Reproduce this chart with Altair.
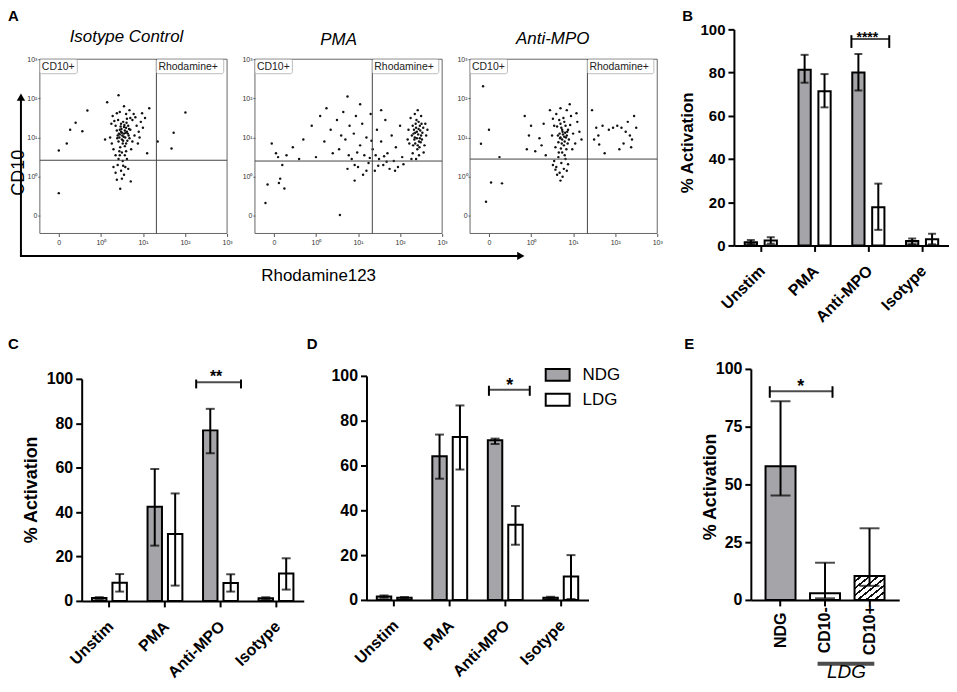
import altair as alt
import pandas as pd

FONT = "Liberation Sans"
GRAY = "#a5a5a9"
W, H = 945, 676

# ---------------- Panel A (flow cytometry) ----------------
# display units: 0 -> "0", 1 -> 10^0, 2 -> 10^1, 3 -> 10^2, 4 -> 10^3
a_titles = ["Isotype Control", "PMA", "Anti-MPO"]
a_tick_values = [0, 1, 2, 3, 4]
a_tick_labels = ["0", "10⁰", "10¹", "10²", "10³"]
a_gate_x = [2.32, 2.34, 2.34]
a_gate_y = [1.42, 1.40, 1.45]
a_gate_names = ["CD10+", "Rhodamine+"]

iso_pts = [
    (1.40, 2.05), (1.45, 2.20), (1.50, 1.95), (1.55, 2.10), (1.60, 2.25), (1.48, 2.35), (1.52, 1.85),
    (1.58, 2.00), (1.62, 2.15), (1.42, 1.90), (1.47, 2.28), (1.66, 2.05), (1.38, 2.18), (1.53, 2.40),
    (1.57, 1.78), (1.44, 2.00), (1.63, 1.92), (1.50, 2.12), (1.70, 2.20), (1.35, 2.30), (1.56, 2.32),
    (1.46, 1.75), (1.61, 2.38), (1.68, 1.98), (1.41, 2.45), (1.54, 2.02), (1.49, 2.22), (1.59, 2.12),
    (1.43, 2.10), (1.65, 2.30), (1.51, 2.05), (1.57, 2.18), (1.45, 2.08), (1.64, 2.10), (1.53, 1.92),
    (1.48, 2.15), (1.60, 1.85), (1.39, 1.98), (1.55, 2.27), (1.67, 2.22),
    (1.25, 2.35), (1.30, 1.70), (1.75, 2.45), (1.80, 2.05), (1.85, 2.30), (1.72, 1.70), (1.28, 2.55),
    (1.60, 2.60), (1.45, 2.65), (1.90, 2.15), (1.95, 2.40), (1.78, 2.60), (1.35, 1.55), (1.22, 2.00),
    (1.68, 2.70), (2.00, 2.25), (1.55, 2.80), (1.88, 1.85), (2.05, 2.50), (1.75, 1.90), (1.32, 2.42),
    (1.82, 2.52), (1.70, 2.50), (1.38, 2.62), (1.92, 2.00), (1.26, 1.85), (1.98, 2.62), (1.62, 2.48),
    (1.45, 1.55), (1.52, 1.40), (1.40, 1.30), (1.58, 1.25), (1.48, 1.15), (1.35, 1.10), (1.55, 1.05),
    (1.62, 1.45), (1.42, 1.45), (1.50, 0.95), (1.65, 1.20), (1.30, 1.25), (1.38, 0.92), (1.50, 1.62),
    (1.57, 1.55), (1.44, 1.65), (1.60, 1.65), (1.53, 1.28),
    (0.00, 0.58), (0.00, 1.67), (0.19, 1.85), (0.27, 2.20), (0.40, 2.38), (0.56, 2.16), (0.68, 2.69),
    (1.42, 3.08), (3.01, 2.64), (2.73, 2.12), (2.68, 1.72), (2.35, 1.90), (1.46, 0.69), (1.71, 0.88),
    (2.10, 1.60), (1.15, 2.90), (2.15, 2.75), (1.10, 1.95),
]

pma_pts = [
    (3.35, 2.00), (3.40, 2.15), (3.45, 1.90), (3.38, 2.25), (3.42, 1.80), (3.50, 2.05), (3.32, 2.10),
    (3.47, 2.30), (3.36, 1.85), (3.44, 2.40), (3.52, 1.95), (3.30, 2.30), (3.41, 1.70), (3.48, 2.18),
    (3.34, 1.95), (3.55, 2.25), (3.39, 2.45), (3.46, 1.75), (3.28, 2.05), (3.43, 2.08), (3.37, 2.35),
    (3.53, 2.12), (3.31, 1.80), (3.49, 1.88), (3.40, 1.98), (3.44, 2.22), (3.36, 2.12), (3.51, 2.35),
    (3.33, 2.20), (3.47, 1.98),
    (3.25, 2.50), (3.60, 2.35), (3.58, 1.80), (3.22, 1.85), (3.62, 2.05), (3.35, 2.60), (3.50, 2.55),
    (3.20, 2.20), (3.30, 1.60), (3.45, 1.55), (3.56, 1.62), (3.38, 1.45), (3.18, 1.95), (3.65, 2.20),
    (3.42, 2.70), (3.27, 1.45),
    (0.45, 1.75), (0.70, 1.95), (0.90, 2.30), (1.10, 2.55), (1.20, 1.90), (1.35, 2.20), (1.50, 2.45),
    (1.55, 1.70), (1.65, 2.65), (1.70, 1.95), (1.80, 2.30), (1.85, 1.45), (1.90, 2.10), (1.95, 2.55),
    (2.00, 1.25), (2.05, 1.80), (2.10, 2.35), (2.15, 1.55), (2.20, 2.00), (2.25, 1.35), (2.30, 2.60),
    (2.35, 1.70), (2.40, 1.15), (2.45, 2.20), (2.50, 1.45), (2.55, 1.90), (2.60, 1.30), (2.65, 2.45),
    (2.70, 1.60), (2.75, 1.20), (2.80, 2.05), (2.85, 1.40), (2.90, 1.75), (2.95, 1.25), (3.00, 2.30),
    (3.05, 1.50), (1.75, 1.20), (2.12, 1.05), (1.60, 2.05), (2.32, 1.92), (1.40, 1.60), (1.00, 1.50),
    (2.55, 2.70), (2.20, 1.15), (1.98, 1.62), (2.68, 1.38), (2.42, 1.55), (2.88, 1.15), (3.08, 1.32),
    (2.05, 2.85), (1.25, 2.75), (1.92, 1.30), (2.28, 1.48), (2.62, 1.52), (1.78, 1.55), (2.48, 1.28),
    (-0.15, 0.80), (-0.05, 1.85), (0.05, 1.60), (0.10, 1.50), (0.20, 1.30), (0.30, 1.55), (0.15, 0.95),
    (0.25, 0.70), (-0.20, 0.33), (1.57, 0.02), (1.92, 0.90), (0.60, 1.45), (1.75, 3.05), (0.12, 0.84),
]

mpo_pts = [
    (1.70, 2.00), (1.75, 2.15), (1.80, 1.90), (1.72, 2.25), (1.78, 1.80), (1.85, 2.05), (1.68, 2.10),
    (1.82, 2.30), (1.74, 1.95), (1.88, 2.20), (1.65, 1.88), (1.79, 2.40), (1.71, 1.72), (1.90, 1.95),
    (1.76, 2.08), (1.62, 2.28), (1.84, 1.70), (1.93, 2.32), (1.67, 2.45), (1.81, 2.12), (1.73, 1.85),
    (1.87, 1.85), (1.77, 2.50), (1.69, 1.98), (1.83, 2.00), (1.74, 2.20), (1.86, 2.15), (1.70, 2.35),
    (1.79, 2.02), (1.64, 2.05),
    (1.55, 2.30), (1.95, 2.55), (2.00, 2.10), (2.05, 1.85), (1.58, 1.75), (1.60, 2.60), (1.85, 2.70),
    (2.10, 2.40), (1.50, 2.05), (2.15, 2.15), (1.70, 2.75), (1.98, 1.70), (2.08, 2.62), (1.52, 2.48),
    (1.92, 2.85), (2.20, 1.95),
    (1.65, 1.50), (1.72, 1.35), (1.60, 1.25), (1.78, 1.20), (1.68, 1.10), (1.55, 1.40), (1.75, 1.00),
    (1.82, 1.45), (1.62, 1.05), (1.70, 0.90), (1.85, 1.15), (1.58, 1.18), (1.80, 1.55), (1.52, 1.30),
    (1.74, 1.62), (1.66, 1.62), (1.88, 1.32),
    (2.45, 2.70), (2.55, 2.25), (2.60, 2.05), (2.70, 2.30), (2.85, 2.20), (2.95, 2.25), (3.05, 2.30),
    (3.15, 2.25), (3.25, 2.15), (3.30, 2.40), (3.35, 2.05), (3.40, 1.95), (3.45, 2.55), (3.20, 1.85),
    (2.50, 1.95), (2.75, 1.60), (3.10, 1.70), (3.38, 1.75), (2.62, 1.82), (3.50, 2.25),
    (-0.19, 1.84), (-0.07, 0.36), (0.05, 0.85), (0.31, 0.83), (-0.14, 3.31), (0.90, 1.70), (0.95, 2.05),
    (1.10, 1.65), (1.20, 1.98), (1.30, 2.35), (1.35, 1.55), (1.25, 1.80), (0.85, 2.55), (1.00, 2.30),
    (0.25, 1.50), (1.45, 2.70), (0.00, 2.20),
]

a_points = [iso_pts, pma_pts, mpo_pts]

# ---------------- Panels B, C, D (grouped bars) ----------------
categories = ["Unstim", "PMA", "Anti-MPO", "Isotype"]
groups = ["NDG", "LDG"]

b_ndg = [1.5, 81.3, 80.0, 2.0]
b_ndg_lo = [0.6, 75.3, 71.7, 0.5]
b_ndg_hi = [2.5, 88.2, 88.6, 3.2]
b_ldg = [2.3, 71.4, 17.7, 2.9]
b_ldg_lo = [0.8, 63.9, 7.2, 0.5]
b_ldg_hi = [3.8, 79.3, 28.6, 5.4]

c_ndg = [1.3, 42.4, 76.8, 1.2]
c_ndg_lo = [0.9, 24.9, 66.5, 0.8]
c_ndg_hi = [1.7, 59.4, 86.5, 1.6]
c_ldg = [8.2, 30.1, 8.1, 12.4]
c_ldg_lo = [4.2, 6.9, 4.2, 5.1]
c_ldg_hi = [12.1, 48.4, 12.0, 19.2]

d_ndg = [1.5, 64.1, 71.3, 1.0]
d_ndg_lo = [1.0, 54.1, 69.6, 0.6]
d_ndg_hi = [2.0, 73.8, 72.0, 1.4]
d_ldg = [1.0, 72.7, 33.6, 10.4]
d_ldg_lo = [0.7, 58.2, 24.6, 0.4]
d_ldg_hi = [1.3, 86.8, 41.9, 20.0]

# significance brackets: (category, line value, cap top, cap bottom, stars)
b_sig = ("Anti-MPO", 95.5, 97.3, 91.4, "****")
c_sig = ("Anti-MPO", 98.5, 99.7, 95.7, "**")
d_sig = ("Anti-MPO", 93.8, 95.6, 91.1, "*")

# ---------------- Panel E ----------------
e_cats = ["NDG", "CD10-", "CD10+"]
e_mean = [57.9, 2.9, 10.4]
e_lo = [45.2, 0.7, 6.1]
e_hi = [86.0, 16.1, 31.0]
e_sig = ("NDG", 90.3, 92.5, 87.5, "*")
e_group_label = "LDG"


def text_at(t, x, y, size, weight="normal", style="normal", align="left", baseline="top", angle=0):
    kw = dict(align=align, baseline=baseline, fontSize=size, fontWeight=weight,
              fontStyle=style, font=FONT, color="black")
    if angle:
        kw["angle"] = angle
    return alt.Chart(pd.DataFrame({"t": [t]})).mark_text(**kw).encode(
        text="t:N", x=alt.value(x), y=alt.value(y))


def scatter_panel(pts, x0, gx, gy, title, title_x, title_y):
    A_DOM = [-0.45, 4.0]
    xr = [x0, x0 + 188]
    yr = [225, 50]
    lab = "[" + ",".join("'%s'" % t for t in a_tick_labels) + "][datum.value]"
    xsc = alt.Scale(domain=A_DOM, range=xr, nice=False, zero=False)
    ysc = alt.Scale(domain=A_DOM, range=yr, nice=False, zero=False)
    common = dict(values=a_tick_values, labelExpr=lab, title="", domain=False, grid=False,
                  tickColor="#555", tickWidth=1, labelFontSize=7, labelColor="#333",
                  labelFont=FONT, labelFlush=False, labelOverlap=False)
    xax = alt.Axis(orient="bottom", offset=yr[0] - H, tickSize=3, labelPadding=2, **common)
    yax = alt.Axis(orient="left", offset=-x0, tickSize=2, labelPadding=1, **common)
    df = pd.DataFrame(pts, columns=["x", "y"])
    X = alt.X("x:Q", scale=xsc, axis=xax)
    Y = alt.Y("y:Q", scale=ysc, axis=yax)
    g = pd.DataFrame({"gx": [gx], "gy": [gy]})
    frame = alt.Chart(g).mark_rect(fillOpacity=0, stroke="#666", strokeWidth=1).encode(
        x=alt.datum(A_DOM[0]), x2=alt.datum(A_DOM[1]), y=alt.datum(A_DOM[0]), y2=alt.datum(A_DOM[1]))
    vline = alt.Chart(g).mark_rule(color="#444", strokeWidth=1).encode(
        x=alt.X("gx:Q", scale=xsc, axis=xax), y=alt.datum(A_DOM[0]), y2=alt.datum(A_DOM[1]))
    hline = alt.Chart(g).mark_rule(color="#444", strokeWidth=1).encode(
        y=alt.Y("gy:Q", scale=ysc, axis=yax), x=alt.datum(A_DOM[0]), x2=alt.datum(A_DOM[1]))
    boxes = pd.DataFrame({"name": a_gate_names, "x": [A_DOM[0], gx], "x2": [0.44, 3.92]})
    box = alt.Chart(boxes).mark_rect(fill="white", stroke="#aaa", strokeWidth=0.8, cornerRadius=2).encode(
        x=alt.X("x:Q", scale=xsc, axis=xax), x2="x2:Q", y=alt.datum(A_DOM[1]), y2=alt.datum(3.63))
    box_t = alt.Chart(boxes).mark_text(align="left", baseline="middle", dx=2, dy=7.5, fontSize=10.5,
                                       font=FONT, color="#222").encode(
        x=alt.X("x:Q", scale=xsc, axis=xax), y=alt.datum(A_DOM[1]), text="name:N")
    pts_l = alt.Chart(df).mark_circle(size=6, color="#111", opacity=1).encode(x=X, y=Y)
    ttl = text_at(title, title_x, title_y, 17, style="italic", align="center", baseline="alphabetic")
    return alt.layer(frame, pts_l, vline, hline, box, box_t, ttl)


def bar_panel(ndg, ndg_lo, ndg_hi, ldg, ldg_lo, ldg_hi, xr, yr, pin, pout, cap, tick_fs, cat_fs,
              ytitle, tx, ty, sig, br_dx, br_w, cap_l, cap_r, star_fs, star_dx, star_dy):
    rows = []
    for i, c in enumerate(categories):
        rows.append(dict(cat=c, grp="NDG", mean=ndg[i], lo=ndg_lo[i], hi=ndg_hi[i]))
        rows.append(dict(cat=c, grp="LDG", mean=ldg[i], lo=ldg_lo[i], hi=ldg_hi[i]))
    df = pd.DataFrame(rows)
    xs = alt.Scale(domain=categories, range=xr, paddingInner=0, paddingOuter=0)
    ys = alt.Scale(domain=[0, 100], range=yr, nice=False, zero=False)
    os_ = alt.Scale(domain=groups, paddingInner=pin, paddingOuter=pout)
    xax = alt.Axis(orient="bottom", offset=yr[0] - H, title="", labelAngle=315, labelAlign="right",
                   labelBaseline="top", labelPadding=11, labelOffset=-4, labelFontSize=cat_fs,
                   labelFontWeight="bold", labelColor="black", labelFont=FONT, labelOverlap=False,
                   tickSize=6, tickWidth=2, tickColor="black", domainColor="black", domainWidth=2,
                   grid=False)
    yax_kw = dict(orient="left", offset=-xr[0], values=[0, 20, 40, 60, 80, 100], labelFontSize=tick_fs,
                  labelFontWeight="bold", labelColor="black", labelFont=FONT, labelPadding=3,
                  tickSize=6, tickWidth=2, tickColor="black", domainColor="black", domainWidth=2,
                  grid=False, labelFlush=False, labelOverlap=False)
    if ytitle:
        yax = alt.Axis(title=ytitle, titleX=tx, titleY=ty, titleAngle=270, titleAlign="center",
                       titleBaseline="middle", titleFontSize=18 if tick_fs > 15 else 17,
                       titleFontWeight="bold", titleFont=FONT, titleColor="black", **yax_kw)
    else:
        yax = alt.Axis(title="", **yax_kw)
    X = alt.X("cat:N", scale=xs, axis=xax)
    Y = alt.Y("mean:Q", scale=ys, axis=yax, stack=None)
    XO = alt.XOffset("grp:N", scale=os_)
    base = alt.Chart(df)
    bars = base.mark_bar(stroke="black", strokeWidth=2).encode(
        x=X, xOffset=XO, y=Y,
        fill=alt.Fill("grp:N", scale=alt.Scale(domain=groups, range=[GRAY, "white"]), legend=None))
    wh = base.mark_rule(color="black", strokeWidth=2).encode(x=X, xOffset=XO, y="lo:Q", y2="hi:Q")
    c_lo = base.mark_tick(orient="horizontal", size=cap, thickness=2, color="black").encode(
        x=X, xOffset=XO, y="lo:Q")
    c_hi = base.mark_tick(orient="horizontal", size=cap, thickness=2, color="black").encode(
        x=X, xOffset=XO, y="hi:Q")
    sg = pd.DataFrame({"cat": [sig[0]], "y": [sig[1]], "yt": [sig[2]], "yb": [sig[3]], "s": [sig[4]]})
    bc = alt.Chart(sg)
    bl = bc.mark_tick(orient="horizontal", size=br_w, thickness=2, color="black", xOffset=br_dx).encode(
        x=X, y=alt.Y("y:Q", scale=ys, axis=yax))
    bcl = bc.mark_rule(color="black", strokeWidth=2, xOffset=cap_l).encode(x=X, y="yt:Q", y2="yb:Q")
    bcr = bc.mark_rule(color="black", strokeWidth=2, xOffset=cap_r).encode(x=X, y="yt:Q", y2="yb:Q")
    st = bc.mark_text(fontSize=star_fs, fontWeight="bold", font=FONT, color="black", dx=star_dx,
                      dy=star_dy, baseline="alphabetic").encode(x=X, y=alt.Y("y:Q"), text="s:N")
    return alt.layer(bars, wh, c_lo, c_hi, bl, bcl, bcr, st)


def e_panel():
    df = pd.DataFrame({"cat": e_cats, "mean": e_mean, "lo": e_lo, "hi": e_hi})
    xr, yr = [746, 895], [593, 361]
    xs = alt.Scale(domain=e_cats, range=xr, paddingInner=0.326, paddingOuter=0.33)
    ys = alt.Scale(domain=[0, 100], range=yr, nice=False, zero=False)
    xax = alt.Axis(orient="bottom", offset=yr[0] - H, title="", labelAngle=270, labelAlign="center",
                   labelBaseline="middle", labelPadding=24, labelFontSize=16, labelFontWeight="bold",
                   labelColor="black", labelFont=FONT, labelOverlap=False, tickSize=6, tickWidth=2,
                   tickColor="black", domainColor="black", domainWidth=2, grid=False)
    yax = alt.Axis(orient="left", offset=-xr[0], values=[0, 25, 50, 75, 100], labelFontSize=16,
                   labelFontWeight="bold", labelColor="black", labelFont=FONT, labelPadding=3,
                   tickSize=6, tickWidth=2, tickColor="black", domainColor="black", domainWidth=2,
                   grid=False, labelFlush=False, labelOverlap=False, title="% Activation", titleX=-40,
                   titleY=479, titleAngle=270, titleAlign="center", titleBaseline="middle",
                   titleFontSize=18, titleFontWeight="bold", titleFont=FONT, titleColor="black")
    X = alt.X("cat:N", scale=xs, axis=xax)
    Y = alt.Y("mean:Q", scale=ys, axis=yax)
    base = alt.Chart(df)
    bars = base.transform_filter(alt.datum.cat != "CD10+").mark_bar(stroke="black", strokeWidth=2).encode(
        x=X, y=Y, fill=alt.Fill("cat:N", scale=alt.Scale(domain=e_cats, range=[GRAY, "white", "white"]),
                                legend=None))
    stops = []
    n = 7
    for i in range(n):
        a, m, b = i / n, (i + 0.68) / n, (i + 1) / n
        stops += [alt.GradientStop(offset=a, color="white"), alt.GradientStop(offset=m, color="white"),
                  alt.GradientStop(offset=m, color="#111"), alt.GradientStop(offset=b, color="#111")]
    grad = alt.LinearGradient(gradient="linear", stops=stops, x1=0, y1=0, x2=1, y2=1)
    hatch = base.transform_filter(alt.datum.cat == "CD10+").mark_bar(
        fill=grad, stroke="black", strokeWidth=2).encode(x=X, y=Y)
    wh = base.mark_rule(color="black", strokeWidth=2).encode(x=X, y="lo:Q", y2="hi:Q")
    c_lo = base.mark_tick(orient="horizontal", size=20, thickness=2, color="black").encode(x=X, y="lo:Q")
    c_hi = base.mark_tick(orient="horizontal", size=20, thickness=2, color="black").encode(x=X, y="hi:Q")
    sg = pd.DataFrame({"cat": [e_sig[0]], "y": [e_sig[1]], "yt": [e_sig[2]], "yb": [e_sig[3]],
                       "s": [e_sig[4]]})
    bc = alt.Chart(sg)
    bl = bc.mark_tick(orient="horizontal", size=63, thickness=2, color="black", xOffset=20.7).encode(
        x=X, y=alt.Y("y:Q", scale=ys, axis=yax))
    bcl = bc.mark_rule(color="black", strokeWidth=2, xOffset=-10.8).encode(x=X, y="yt:Q", y2="yb:Q")
    bcr = bc.mark_rule(color="black", strokeWidth=2, xOffset=52.2).encode(x=X, y="yt:Q", y2="yb:Q")
    st = bc.mark_text(fontSize=18, fontWeight="bold", font=FONT, color="black", dx=20.2, dy=1,
                      baseline="alphabetic").encode(x=X, y=alt.Y("y:Q"), text="s:N")
    ug = pd.DataFrame({"cat": ["CD10-"], "t": [e_group_label]})
    ul = alt.Chart(ug).mark_tick(orient="horizontal", size=57, thickness=4, color="black", xOffset=21).encode(
        x=X, y=alt.value(657))
    ut = alt.Chart(ug).mark_text(fontSize=19, fontStyle="italic", font=FONT, color="black", dx=21.5,
                                 baseline="alphabetic").encode(x=X, y=alt.value(671), text="t:N")
    return alt.layer(bars, hatch, wh, c_lo, c_hi, bl, bcl, bcr, st, ul, ut)


# ---- assemble panel A ----
A1 = scatter_panel(a_points[0], 32, a_gate_x[0], a_gate_y[0], a_titles[0], 119, 33)
A2 = scatter_panel(a_points[1], 248, a_gate_x[1], a_gate_y[1], a_titles[1], 332, 36)
A3 = scatter_panel(a_points[2], 464, a_gate_x[2], a_gate_y[2], a_titles[2], 547, 35)

one = pd.DataFrame({"k": [0]})
arrow_v = alt.Chart(one).mark_rule(color="black", strokeWidth=2).encode(
    x=alt.value(13), y=alt.value(247.5), y2=alt.value(90))
arrow_h = alt.Chart(one).mark_rule(color="black", strokeWidth=2).encode(
    x=alt.value(12), x2=alt.value(512), y=alt.value(247.5))
head_v = alt.Chart(one).mark_point(shape="triangle-up", filled=True, color="black", size=70, opacity=1).encode(
    x=alt.value(13), y=alt.value(88))
head_h = alt.Chart(one).mark_point(shape="triangle-right", filled=True, color="black", size=70, opacity=1).encode(
    x=alt.value(515), y=alt.value(247.5))
cd10_lab = text_at("CD10", 2, 164, 18, align="center", baseline="top", angle=270)
rho_lab = text_at("Rhodamine123", 312, 273, 17, align="center", baseline="alphabetic")

B = bar_panel(b_ndg, b_ndg_lo, b_ndg_hi, b_ldg, b_ldg_lo, b_ldg_hi, [729, 945], [237, 20], 0.385, 0.5425, 8,
              15, 16, "% Activation", -47, 133.5, b_sig, 2, 38, -17, 21, 14, -1, 3)
C = bar_panel(c_ndg, c_ndg_lo, c_ndg_hi, c_ldg, c_ldg_lo, c_ldg_hi, [74, 297], [594, 371], 0.293, 0.506, 9,
              16, 16, "% Activation", -50, 482, c_sig, -2, 45, -24.4, 20.6, 16, -4.4, 0)
D = bar_panel(d_ndg, d_ndg_lo, d_ndg_hi, d_ldg, d_ldg_lo, d_ldg_hi, [360, 583], [593, 368], 0.293, 0.506, 9,
              16, 16, "", 0, 0, d_sig, 4, 41, -16.4, 24.6, 18, 4.6, 1)
E = e_panel()

# legend of panel D
lg = pd.DataFrame({"grp": groups})
LY = alt.Y("grp:N", scale=alt.Scale(domain=groups, range=[367, 392], padding=0), axis=None)
lg_sym = alt.Chart(lg).mark_point(shape="M-1,-0.5H1V0.5H-1Z", size=576, filled=True, opacity=1,
                                  stroke="black", strokeWidth=2).encode(
    x=alt.value(552), y=LY,
    fill=alt.Fill("grp:N", scale=alt.Scale(domain=groups, range=[GRAY, "white"]), legend=None))
lg_txt = alt.Chart(lg).mark_text(align="left", baseline="middle", fontSize=17, font=FONT, color="black").encode(
    x=alt.value(577), y=LY, text="grp:N")
legend = alt.layer(lg_sym, lg_txt)

letters = [text_at("A", 0, 0, 15, weight="bold"), text_at("B", 677, 0, 15, weight="bold"),
           text_at("C", 0, 329, 15, weight="bold"), text_at("D", 300, 329, 15, weight="bold"),
           text_at("E", 679, 329, 15, weight="bold")]

chart = alt.layer(
    A1, A2, A3, arrow_v, arrow_h, head_v, head_h, cd10_lab, rho_lab, B, C, D, E, legend, *letters
).resolve_scale(
    x="independent", y="independent", xOffset="independent", fill="independent"
).properties(
    width=W, height=H, autosize=alt.AutoSizeParams(type="none"), padding=0
).configure(font=FONT).configure_view(stroke="transparent", strokeWidth=0)

chart.save("out.html", embed_options={"renderer": "svg", "actions": False})
